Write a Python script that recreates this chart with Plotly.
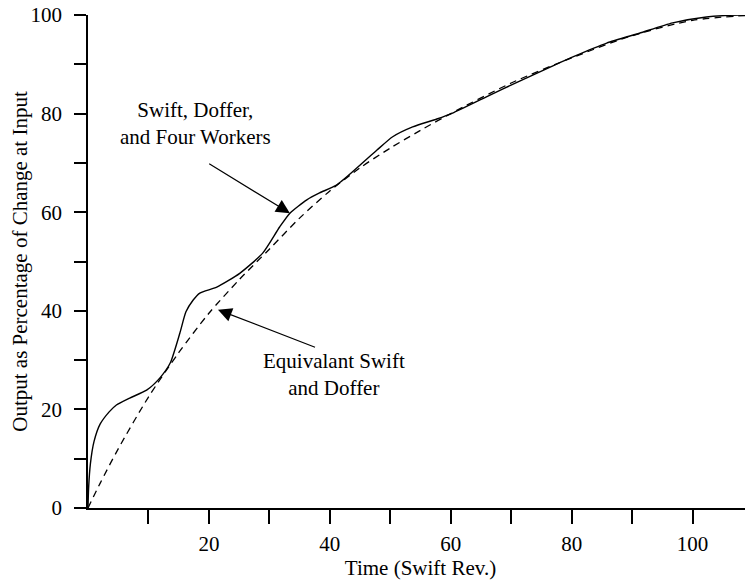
import plotly.graph_objects as go

# curve
swift_doffer_workers_x = [0, 0.1, 0.4, 1.0, 2.0, 3.5, 4.7, 6.9, 9.7, 11.9, 13.6, 15.2, 16.2, 17.4,
                          18.5, 21.3, 25.1, 28.9, 31.7, 33.4, 36.2, 38.3, 41.1, 44.5, 47.8,
                          50.4, 53.7, 57.7, 60.3, 65.9, 71.4, 76.9, 80.2, 85.8, 91.2, 96.7,
                          102.3, 107.8, 110]
swift_doffer_workers_y = [0, 4.0, 9.0, 13.5, 17.0, 19.5, 20.9, 22.3, 23.9, 26.4, 29.4, 35.5, 39.8, 42.2,
                          43.6, 44.8, 47.6, 51.7, 57.0, 59.8, 62.5, 63.9, 65.5, 69.0, 72.6,
                          75.3, 77.3, 78.9, 80.1, 83.4, 86.6, 89.7, 91.5, 94.3, 96.3, 98.4,
                          99.6, 100.0, 100.0]

equiv_x = [0, 2, 5, 10, 15, 20, 25, 30, 35, 40, 45, 50, 55, 60, 70, 80, 90, 100, 110]
equiv_y = [0, 5, 12, 22.5, 31.5, 39.5, 46.3, 52.5, 58.8, 64.3, 69, 73, 76.6, 80, 86.2, 91.3, 95.8, 98.9, 100]

x_ticks = [10, 20, 30, 40, 50, 60, 70, 80, 90, 100, 110]
x_labels = ["", "20", "", "40", "", "60", "", "80", "", "100", ""]
y_ticks = [0, 10, 20, 30, 40, 50, 60, 70, 80, 90, 100]
y_labels = ["0", "", "20", "", "40", "", "60", "", "80", "", "100"]

serif = "Liberation Serif"
txt = dict(family=serif, size=21, color="black")

fig = go.Figure()
fig.add_trace(go.Scatter(x=equiv_x, y=equiv_y, mode="lines",
                         line=dict(color="black", width=1.3, dash="7px,5px", shape="spline", smoothing=0.8)))
fig.add_trace(go.Scatter(x=swift_doffer_workers_x, y=swift_doffer_workers_y, mode="lines",
                         line=dict(color="black", width=1.4, shape="spline", smoothing=0.6)))

# page body has an 8px margin, so the figure is a bit smaller than the window
fig.update_layout(
    width=745, height=575,
    margin=dict(l=80, r=0, t=7, b=75),
    plot_bgcolor="white", paper_bgcolor="white",
    showlegend=False,
    font=txt,
)
fig.update_xaxes(range=[0, 110], showgrid=False, zeroline=False, automargin=False,
                 showline=True, linecolor="black", linewidth=1.5,
                 ticks="outside", ticklen=14, tickwidth=1.5, tickcolor="black",
                 tickvals=x_ticks, ticktext=x_labels, ticklabelstandoff=2,
                 tickfont=txt, ticklabeloverflow="allow",
                 title=dict(text="Time (Swift Rev.)", standoff=2, font=txt))
fig.update_yaxes(range=[0, 100], showgrid=False, zeroline=False, automargin=False,
                 showline=True, linecolor="black", linewidth=1.5,
                 ticks="outside", ticklen=12, tickwidth=1.5, tickcolor="black",
                 tickvals=y_ticks, ticktext=y_labels, ticklabelstandoff=8,
                 tickfont=txt, ticklabeloverflow="allow",
                 title=dict(text="Output as Percentage of Change at Input", standoff=14, font=txt))

# arrows
fig.add_annotation(x=33.4, y=59.8, ax=19.8, ay=70, xref="x", yref="y", axref="x", ayref="y",
                   text="", showarrow=True, arrowhead=2, arrowsize=2.3, arrowwidth=1.2, arrowcolor="black")
fig.add_annotation(x=21.5, y=40.2, ax=37.8, ay=32.5, xref="x", yref="y", axref="x", ayref="y",
                   text="", showarrow=True, arrowhead=2, arrowsize=2.3, arrowwidth=1.2, arrowcolor="black")
# labels
fig.add_annotation(x=17.7, y=77.9, xref="x", yref="y", text="Swift, Doffer,<br>and Four Workers",
                   showarrow=False, align="center", font=txt)
fig.add_annotation(x=40.7, y=27, xref="x", yref="y", text="Equivalant Swift<br>and Doffer",
                   showarrow=False, align="center", font=txt)

fig.write_html("out.html")
